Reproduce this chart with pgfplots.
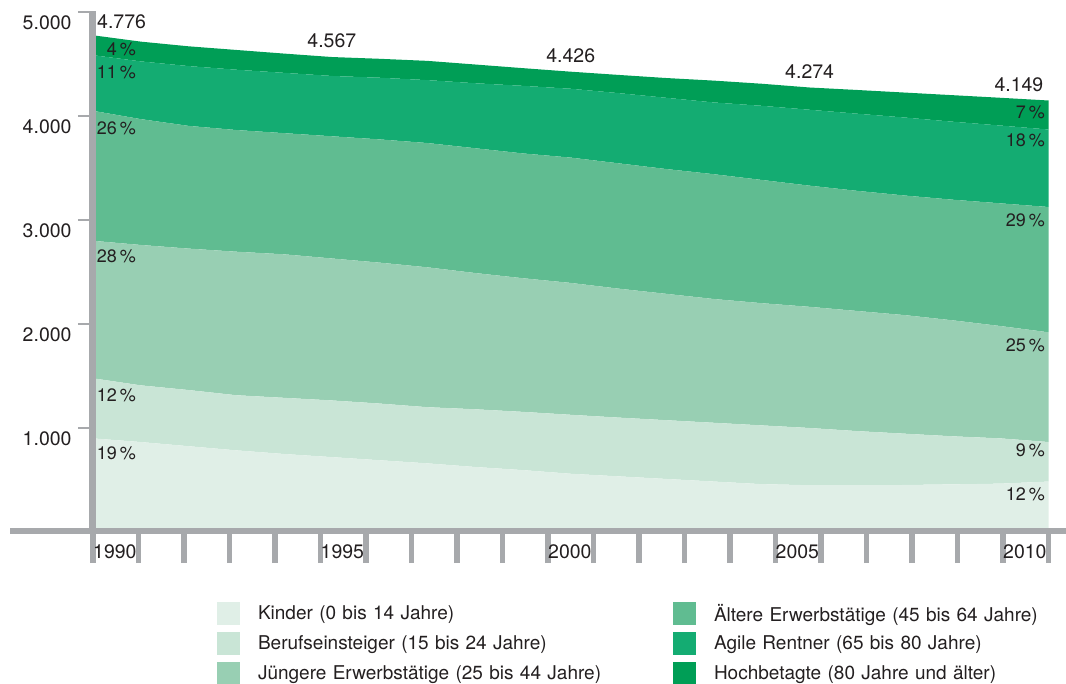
\documentclass[border=0pt]{standalone}
\usepackage{fontspec}
\setmainfont{TeX Gyre Heros}
\usepackage{pgfplots}
\usepackage{pgfplotstable}
\pgfplotsset{compat=1.18}

\definecolor{kinder}{HTML}{E0EFE7}
\definecolor{beruf}{HTML}{C9E5D6}
\definecolor{juenger}{HTML}{98CFB3}
\definecolor{aelter}{HTML}{60BC91}
\definecolor{rentner}{HTML}{14AC72}
\definecolor{hoch}{HTML}{009E56}
\definecolor{axisgray}{HTML}{A7A9AC}
\definecolor{txt}{HTML}{231F20}

\pgfplotsset{swatch/.style={legend image code/.code={\fill[##1, draw=none] (0pt,-11.5pt) rectangle (23pt,11.5pt);}}}
\tikzset{
  pct/.style={font=\fontsize{18}{21}\selectfont, text=txt, inner sep=0pt, anchor=east},
  val/.style={font=\fontsize{19.5}{22}\selectfont, text=txt, inner sep=0pt},
}

% Bevoelkerung nach Altersgruppen (in Tausend), 1990 = 0 ... 2010 = 20
\pgfplotstableread{
x   K    B    J     A     R    H
0   900  578  1322  1250  535  191
1   865  545  1350  1210  555  190
2   825  540  1360  1180  575  190
3   785  530  1380  1170  580  190
4   750  540  1380  1165  580  185
5   720  545  1365  1175  580  182
6   690  545  1355  1185  593  182
7   660  540  1345  1195  605  185
8   625  555  1310  1200  625  180
9   595  560  1285  1200  650  170
10  560  567  1268  1205  662  164
11  535  565  1240  1205  675  175
12  510  565  1215  1200  685  190
13  485  565  1190  1200  690  210
14  460  565  1175  1185  713  212
15  450  550  1165  1165  730  214
16  450  520  1155  1155  742  228
17  452  493  1140  1150  750  240
18  458  462  1115  1160  750  255
19  465  435  1080  1180  748  267
20  485  380  1055  1205  745  279
}\bevoelkerung

\begin{document}
\begin{tikzpicture}[x=1pt,y=1pt]
\path[use as bounding box] (0,0) rectangle (1066,684);
\begin{axis}[
  at={(93pt,152pt)}, anchor=south west,
  scale only axis, width=955.5pt, height=520pt,
  xmin=0, xmax=20, ymin=0, ymax=5000,
  clip=false,
  axis x line*=bottom, axis y line*=left,
  axis line style={draw=none},
  tick align=outside,
  ytick={1000,2000,3000,4000,5000},
  yticklabels={1.000,2.000,3.000,4.000,5.000},
  xtick={0,0.95238,1.90476,2.85714,3.80952,4.76190,5.71429,6.66667,7.61905,8.57143,9.52381,10.47619,11.42857,12.38095,13.33333,14.28571,15.23810,16.19048,17.14286,18.09524,19.04762,20},
  xticklabels={1990,,,,,1995,,,,,2000,,,,,2005,,,,,2010,},
  ytick style={draw=axisgray, line width=2.5pt, /pgfplots/major tick length=15pt},
  xtick style={draw=axisgray, line width=5.5pt, /pgfplots/major tick length=31pt},
  /pgf/number format/assume math mode=true,
  tick label style={font=\fontsize{19.5}{22}\selectfont, text=txt, inner sep=0pt},
  xticklabel style={anchor=west, yshift=-15pt},
  yticklabel style={anchor=east, xshift=-17pt, yshift=-10.5pt},
  stack plots=y,
  legend columns=2,
  legend cell align=left,
  legend style={draw=none, fill=none, at={(0.1298,-0.1346)}, anchor=north west,
    inner sep=0pt, outer sep=0pt, row sep=7pt,
    font=\fontsize{19}{22}\selectfont, text=txt,
    nodes={inner sep=0pt, text width=415pt, align=left},
    /tikz/every odd column/.append style={column sep=18pt}},
]
\addplot[fill=kinder,  draw=none, forget plot] table[x=x, y=K] {\bevoelkerung} \closedcycle;
\addplot[fill=beruf,   draw=none, forget plot] table[x=x, y=B] {\bevoelkerung} \closedcycle;
\addplot[fill=juenger, draw=none, forget plot] table[x=x, y=J] {\bevoelkerung} \closedcycle;
\addplot[fill=aelter,  draw=none, forget plot] table[x=x, y=A] {\bevoelkerung} \closedcycle;
\addplot[fill=rentner, draw=none, forget plot] table[x=x, y=R] {\bevoelkerung} \closedcycle;
\addplot[fill=hoch,    draw=none, forget plot] table[x=x, y=H] {\bevoelkerung} \closedcycle;

% legend, read row by row
\addlegendimage{swatch, fill=kinder}
\addlegendentry{Kinder (0 bis 14 Jahre)}
\addlegendimage{swatch, fill=aelter}
\addlegendentry{Ältere Erwerbstätige (45 bis 64 Jahre)}
\addlegendimage{swatch, fill=beruf}
\addlegendentry{Berufseinsteiger (15 bis 24 Jahre)}
\addlegendimage{swatch, fill=rentner}
\addlegendentry{Agile Rentner (65 bis 80 Jahre)}
\addlegendimage{swatch, fill=juenger}
\addlegendentry{Jüngere Erwerbstätige (25 bis 44 Jahre)}
\addlegendimage{swatch, fill=hoch}
\addlegendentry{Hochbetagte (80 Jahre und älter)}

% anchor points for the bars and labels drawn on top
\coordinate (xl) at (axis cs:-1.737,10);
\coordinate (xr) at (axis cs:20.37,10);
\coordinate (yb) at (axis cs:-0.01,-20);
\coordinate (yt) at (axis cs:-0.01,5012);
\coordinate (t0) at (axis cs:0,4776);
\coordinate (t5) at (axis cs:5,4567);
\coordinate (t10) at (axis cs:10,4426);
\coordinate (t15) at (axis cs:15,4274);
\coordinate (t20) at (axis cs:20,4149);
\coordinate (l1) at (axis cs:0.9,4644);
\coordinate (l2) at (axis cs:0.9,4423);
\coordinate (l3) at (axis cs:0.9,3885);
\coordinate (l4) at (axis cs:0.9,2654);
\coordinate (l5) at (axis cs:0.9,1317);
\coordinate (l6) at (axis cs:0.9,760);
\coordinate (r1) at (axis cs:19.93,4032);
\coordinate (r2) at (axis cs:19.93,3762);
\coordinate (r3) at (axis cs:19.93,3000);
\coordinate (r4) at (axis cs:19.93,1791);
\coordinate (r5) at (axis cs:19.93,782);
\coordinate (r6) at (axis cs:19.93,362);
\end{axis}

% axis bars
\draw[axisgray, line width=6pt] (xl) -- (xr);
\draw[axisgray, line width=7.5pt] (yb) -- (yt);

% totals
\node[val, anchor=south west] at (t0) [xshift=4pt, yshift=6pt] {4.776};
\node[val, anchor=south] at (t5) [yshift=9pt] {4.567};
\node[val, anchor=south] at (t10) [yshift=9pt] {4.426};
\node[val, anchor=south] at (t15) [yshift=9pt] {4.274};
\node[val, anchor=south east] at (t20) [xshift=-5pt, yshift=9pt] {4.149};

% shares 1990
\node[pct] at (l1) {4\,\%};
\node[pct] at (l2) {11\,\%};
\node[pct] at (l3) {26\,\%};
\node[pct] at (l4) {28\,\%};
\node[pct] at (l5) {12\,\%};
\node[pct] at (l6) {19\,\%};
% shares 2010
\node[pct] at (r1) {7\,\%};
\node[pct] at (r2) {18\,\%};
\node[pct] at (r3) {29\,\%};
\node[pct] at (r4) {25\,\%};
\node[pct] at (r5) {9\,\%};
\node[pct] at (r6) {12\,\%};
\end{tikzpicture}
\end{document}
